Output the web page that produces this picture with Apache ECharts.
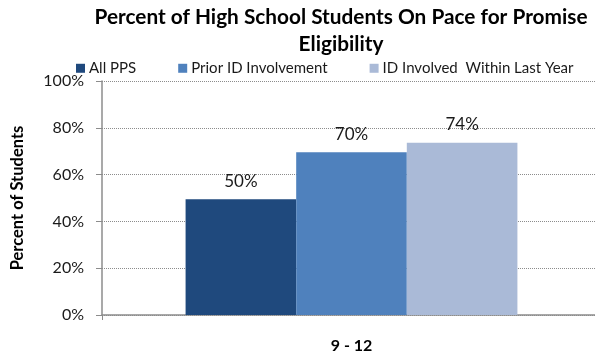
<html>
  <head>
    <title>Promise Eligibility</title>
    <script src="https://cdn.jsdelivr.net/npm/echarts@6/dist/echarts.min.js"></script>
    <style>
      html, body { margin: 0; padding: 0; background: #ffffff; }
      #chart { width: 595px; height: 353px; }
    </style>
  </head>
  <body>
    <div id="chart"></div>
    <script>
      // data
      var categories = ['9 - 12']
      var seriesNames = ['All PPS', 'Prior ID Involvement', 'ID Involved  Within Last Year']
      var allPps = [49.5]
      var priorId = [69.5]
      var recentId = [73.6]
      var colors = ['#1f497d', '#4f81bd', '#aabad7']

      var font = 'Lato, "Open Sans", sans-serif'
      var chart = echarts.init(document.getElementById('chart'))

      var barLabel = {
        show: true,
        position: 'top',
        distance: 5,
        color: '#1a1a1a',
        fontFamily: font,
        fontSize: 17,
        formatter: function (p) { return Math.round(p.value) + '%' }
      }

      chart.setOption({
        animation: false,
        color: colors,
        title: {
          text: 'Percent of High School Students On Pace for Promise\nEligibility',
          left: 341,
          textAlign: 'center',
          top: 4,
          padding: 0,
          textStyle: { fontFamily: font, fontSize: 20.8, fontWeight: 'bold', color: '#000', lineHeight: 27 }
        },
        legend: {
          top: 52,
          left: 71,
          itemWidth: 9,
          itemHeight: 9,
          itemGap: 42,
          icon: 'rect',
          textStyle: { fontFamily: font, fontSize: 15, color: '#1a1a1a', padding: [0, 0, 0, -1] },
          data: seriesNames
        },
        grid: { left: 102, right: -6, top: 81, bottom: 38, containLabel: false, outerBoundsMode: 'none' },
        xAxis: {
          type: 'category',
          data: categories,
          axisLine: { lineStyle: { color: '#8c8c8c', width: 1.5 } },
          axisTick: { show: true, length: 5, lineStyle: { color: '#8c8c8c' } },
          axisLabel: { margin: 19, fontFamily: font, fontSize: 16, fontWeight: 'bold', color: '#000' }
        },
        yAxis: {
          type: 'value',
          min: 0,
          max: 100,
          interval: 20,
          name: 'Percent of Students',
          nameLocation: 'middle',
          nameGap: 72,
          nameTextStyle: { fontFamily: font, fontSize: 16.5, fontWeight: 'bold', color: '#000' },
          axisLine: { show: true, lineStyle: { color: '#8c8c8c', width: 1.5 } },
          axisTick: { show: true, length: 6, lineStyle: { color: '#8c8c8c' } },
          axisLabel: { margin: 18, fontFamily: font, fontSize: 16, color: '#1a1a1a', formatter: '{value}%' },
          splitLine: { lineStyle: { color: '#8c8c8c', type: [1, 1], width: 1 } }
        },
        series: [
          { name: seriesNames[0], type: 'bar', data: allPps, barGap: '0%', barCategoryGap: '33.5%', label: barLabel },
          { name: seriesNames[1], type: 'bar', data: priorId, label: barLabel },
          { name: seriesNames[2], type: 'bar', data: recentId, label: barLabel }
        ]
      })
    </script>
  </body>
</html>
